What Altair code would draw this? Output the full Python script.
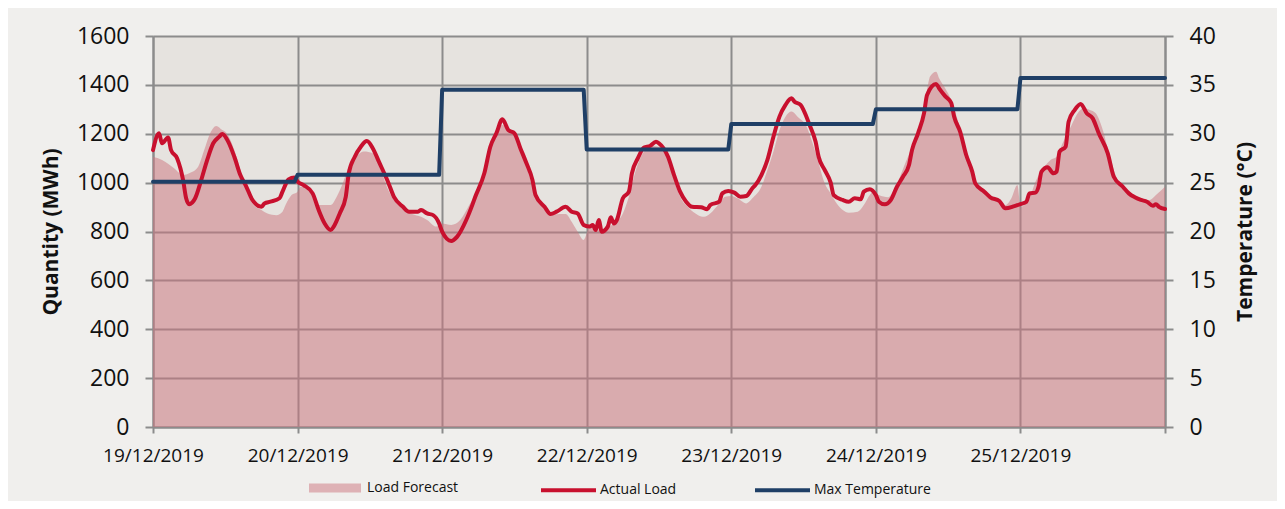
import altair as alt
import pandas as pd

# ---------------- data ----------------
day_labels = ["19/12/2019", "20/12/2019", "21/12/2019", "22/12/2019",
              "23/12/2019", "24/12/2019", "25/12/2019"]

# hours after 19/12/2019 00:00
actual_hours = [0, 1, 1.5, 2.5, 3, 4, 5, 5.5, 6, 7, 8, 9, 10, 11, 11.5, 12.5, 13.5, 14.5,
                15.5, 16.5, 18, 18.5, 19.5, 21, 21.5, 22.5, 23.5, 24, 25, 26.5, 27.5, 28.5,
                29.5, 30, 31, 32, 32.5, 33.5, 34.5, 35.5, 36.5, 37.5, 39, 40, 41.5, 42.5, 44,
                44.5, 45.5, 46.5, 47.5, 48, 49.5, 50.5, 52, 53, 53.5, 55, 56, 57, 58, 59, 60,
                61, 62, 63, 63.5, 65, 66, 67, 68.5, 69.5, 70.5, 71.5, 72.5, 73, 73.5, 74, 74.5,
                75.5, 76, 76.5, 77, 78, 79, 79.5, 80.5, 81.5, 82.5, 83.5, 84, 85.5, 86.5, 87.5,
                88.5, 89.5, 91, 92, 92.5, 94, 94.5, 95.5, 96.5, 97.5, 98.5, 99.5, 100, 101, 102,
                103, 104, 105, 106, 106.5, 107.5, 108, 109, 110, 110.5, 111.5, 112.5, 113,
                114.5, 115.5, 116.5, 117.5, 118, 119, 120, 120.5, 121.5, 122.5, 123.5, 124.5,
                125.5, 126, 127, 128, 128.5, 130, 130.5, 131.5, 132.5, 133, 134, 135, 136,
                136.5, 138, 139, 140.5, 141.5, 143, 144, 145, 145.5, 146.5, 147, 147.5, 148.5,
                149.5, 150, 150.5, 151.5, 152, 153, 154, 155, 156, 157, 158.5, 159.5, 161, 162,
                163, 164, 165, 166, 166.5, 167, 168]
actual_mwh = [1133, 1202, 1161, 1185, 1133, 1100, 1010, 936, 912, 936, 1010, 1093, 1161, 1188,
              1199, 1167, 1106, 1031, 983, 929, 901, 915, 922, 936, 963, 1013, 1021, 1004, 990,
              956, 888, 833, 806, 820, 874, 942, 1038, 1106, 1147, 1170, 1140, 1086, 1004, 942,
              901, 881, 881, 888, 874, 867, 833, 799, 761, 779, 847, 908, 942, 1038, 1147, 1202,
              1259, 1215, 1202, 1140, 1079, 1010, 949, 901, 872, 881, 901, 881, 874, 827, 820,
              827, 806, 847, 799, 820, 858, 833, 847, 936, 963, 1038, 1100, 1144, 1150, 1167,
              1161, 1106, 1031, 963, 922, 901, 899, 891, 908, 922, 956, 966, 959, 942, 945, 977,
              990, 1031, 1093, 1188, 1270, 1318, 1345, 1331, 1318, 1297, 1236, 1167, 1106, 1052,
              1000, 949, 929, 922, 936, 932, 963, 973, 949, 922, 911, 929, 983, 1024, 1072, 1133,
              1202, 1284, 1359, 1404, 1386, 1354, 1327, 1270, 1208, 1113, 1045, 997, 963, 940,
              925, 895, 904, 912, 922, 956, 959, 983, 1045, 1063, 1038, 1045, 1127, 1147, 1249,
              1297, 1322, 1284, 1263, 1202, 1120, 1024, 983, 956, 940, 929, 922, 905, 912, 901,
              892]

forecast_hours = [0, 1.5, 3.5, 5, 6, 7.5, 8.5, 9.5, 10.5, 11.5, 12, 13.5, 14.5, 15.5, 16.5, 18,
                  19, 20.5, 21.5, 22, 23, 24, 24.5, 26, 27.5, 29.5, 30.5, 31.5, 32.5, 34, 35,
                  36.5, 37.5, 38.5, 40, 41.5, 43, 44.5, 45.5, 47, 48, 49.5, 51, 52.5, 53.5, 55,
                  56, 57, 58, 59.5, 60.5, 61.5, 62.5, 63.5, 65, 66, 67.5, 68.5, 69.5, 70.5, 71.5,
                  72.5, 73.5, 75, 76.5, 78, 79, 80, 81, 82, 83, 84, 85.5, 86.5, 87.5, 89, 90.5,
                  91.5, 92.5, 94, 95, 96, 97, 98.5, 99.5, 101, 102, 103, 104, 105, 106, 107,
                  108.5, 109.5, 110.5, 111.5, 112.5, 113.5, 114.5, 115.5, 117, 118, 119, 119.5,
                  120.5, 122, 123, 124, 125, 126, 127.5, 128.5, 129, 130, 130.5, 131.5, 132.5,
                  133.5, 134.5, 135.5, 136.5, 138, 139.5, 140.5, 141.5, 142.5, 143.5, 144, 145.5,
                  146.5, 148, 149, 150, 151, 152.5, 153.5, 154.5, 155.5, 156.5, 157.5, 158.5,
                  159.5, 160.5, 162, 163.5, 164.5, 165.5, 166.5, 168]
forecast_mwh = [1106, 1093, 1059, 1031, 1038, 1065, 1133, 1202, 1232, 1215, 1208, 1133, 1052, 970,
                915, 888, 874, 867, 881, 908, 949, 963, 983, 970, 908, 908, 942, 997, 1065, 1113,
                1127, 1120, 1086, 1004, 929, 895, 872, 860, 847, 820, 833, 827, 847, 908, 956,
                1052, 1147, 1215, 1236, 1208, 1181, 1113, 1024, 942, 895, 867, 872, 872, 840, 799,
                765, 820, 806, 813, 833, 874, 942, 1038, 1106, 1140, 1150, 1147, 1093, 1010, 942,
                895, 867, 860, 874, 915, 942, 945, 936, 915, 936, 983, 1052, 1127, 1215, 1270,
                1291, 1270, 1229, 1161, 1079, 997, 956, 915, 888, 877, 881, 908, 949, 963, 949,
                940, 970, 1024, 1086, 1147, 1256, 1379, 1434, 1454, 1427, 1386, 1338, 1263, 1161,
                1065, 997, 956, 936, 922, 908, 936, 990, 901, 936, 1004, 1065, 1093, 1106, 1161,
                1236, 1284, 1304, 1297, 1284, 1229, 1140, 1052, 990, 956, 940, 929, 929, 949, 983]

max_temp = [25.1, 25.8, 34.5, 28.4, 31.0, 32.5, 35.7]   # °C per day

# ---------------- tables ----------------
base = pd.Timestamp("2019-12-19")
fc_df = pd.DataFrame({"time": base + pd.to_timedelta(forecast_hours, unit="h"),
                      "mwh": forecast_mwh, "series": "Load Forecast"})
act_df = pd.DataFrame({"time": base + pd.to_timedelta(actual_hours, unit="h"),
                       "mwh": actual_mwh, "series": "Actual Load"})
t_rows = []
for i, v in enumerate(max_temp):
    end = 24 if i == len(max_temp) - 1 else 23.5
    t_rows.append({"time": base + pd.Timedelta(hours=i * 24), "temp": v, "series": "Max Temperature"})
    t_rows.append({"time": base + pd.Timedelta(hours=i * 24 + end), "temp": v, "series": "Max Temperature"})
temp_df = pd.DataFrame(t_rows)

# ---------------- styling ----------------
FONT = "Open Sans"
GRID = "#8c8c8c"
PINK = "#cb747d"
RED = "#c8102e"
NAVY = "#1f3f66"
INK = "#111111"

W, H = 1012, 391
PAD = {"left": 145, "top": 28, "right": 112, "bottom": 74}

day_vals = [alt.DateTime(year=2019, month=12, date=d) for d in range(19, 27)]
x_enc = alt.X(
    "time:T",
    scale=alt.Scale(domain=[day_vals[0], day_vals[-1]], nice=False),
    axis=alt.Axis(
        values=day_vals,
        labelExpr="datum.value >= datetime(2019, 11, 26) ? '' : timeFormat(datum.value, '%d/%m/%Y')",
        title=None, grid=True, gridColor=GRID, gridWidth=2,
        domainColor=GRID, domainWidth=2, tickColor=GRID, tickWidth=2, tickSize=6,
        labelFont=FONT, labelFontSize=19, labelColor=INK, labelPadding=13,
        labelFlush=False, labelOverlap=False,
    ),
)

y_left_scale = alt.Scale(domain=[0, 1600], nice=False)
y_left_axis = alt.Axis(
    orient="left", values=list(range(0, 1601, 200)), format="d", title="Quantity (MWh)",
    grid=True, gridColor=GRID, gridWidth=2,
    domainColor=GRID, domainWidth=2, tickColor=GRID, tickWidth=2, tickSize=8,
    labelFont=FONT, labelFontSize=23, labelColor=INK, labelPadding=16,
    titleFont=FONT, titleFontSize=21, titleFontWeight="bold", titleColor=INK,
    titleAngle=270, titleX=-102, titleY=H / 2, titleAlign="center",
    titleBaseline="middle",
)

area = alt.Chart(fc_df).mark_area(interpolate="monotone", fillOpacity=0.5).encode(
    x=x_enc,
    y=alt.Y("mwh:Q", scale=y_left_scale, axis=y_left_axis),
    fill=alt.Fill(
        "series:N",
        scale=alt.Scale(domain=["Load Forecast"], range=[PINK]),
        legend=alt.Legend(
            title=None, orient="none", legendX=156, legendY=426, direction="horizontal",
            symbolType="M-1,-0.17H1V0.17H-1Z", symbolSize=2704, symbolOpacity=0.5,
            symbolStrokeWidth=0, labelFont=FONT, labelFontSize=14, labelColor=INK,
            labelOffset=6, padding=0,
        ),
    ),
)

stroke_scale = alt.Scale(domain=["Actual Load", "Max Temperature"], range=[RED, NAVY])
stroke_legend = alt.Legend(
    title=None, orient="none", legendX=386, legendY=424.5, direction="horizontal",
    symbolType="stroke", symbolSize=3025, symbolStrokeWidth=4,
    labelFont=FONT, labelFontSize=14, labelColor=INK, labelOffset=2,
    columnPadding=70, padding=0,
)

actual = alt.Chart(act_df).mark_line(
    interpolate="monotone", strokeWidth=4, strokeCap="round", strokeJoin="round"
).encode(
    x=alt.X("time:T"),
    y=alt.Y("mwh:Q", scale=y_left_scale, axis=y_left_axis),
    stroke=alt.Stroke("series:N", scale=stroke_scale, legend=stroke_legend),
)

load = alt.layer(area, actual)

temp = alt.Chart(temp_df).mark_line(
    strokeWidth=4, strokeCap="round", strokeJoin="round"
).encode(
    x=alt.X("time:T"),
    y=alt.Y(
        "temp:Q", scale=alt.Scale(domain=[0, 40], nice=False),
        axis=alt.Axis(
            orient="right", values=list(range(0, 41, 5)), title="Temperature (°C)",
            grid=False, domainColor=GRID, domainWidth=2, tickColor=GRID, tickWidth=2,
            tickSize=8, labelFont=FONT, labelFontSize=23, labelColor=INK,
            labelPadding=16,
            titleFont=FONT, titleFontSize=21, titleFontWeight="bold", titleColor=INK,
            titleAngle=270, titleX=80, titleY=H / 2, titleAlign="center",
            titleBaseline="middle",
        ),
    ),
    stroke=alt.Stroke("series:N", scale=stroke_scale, legend=stroke_legend),
)

chart = (
    alt.layer(load, temp)
    .resolve_scale(y="independent")
    .properties(width=W, height=H, padding=PAD,
                autosize=alt.AutoSizeParams(type="none"), background="#f0efed")
    .configure(font=FONT, view=alt.ViewConfig(fill="#e6e3df", stroke="transparent"))
)

chart.save("out.html", embed_options={"renderer": "svg", "actions": False})
